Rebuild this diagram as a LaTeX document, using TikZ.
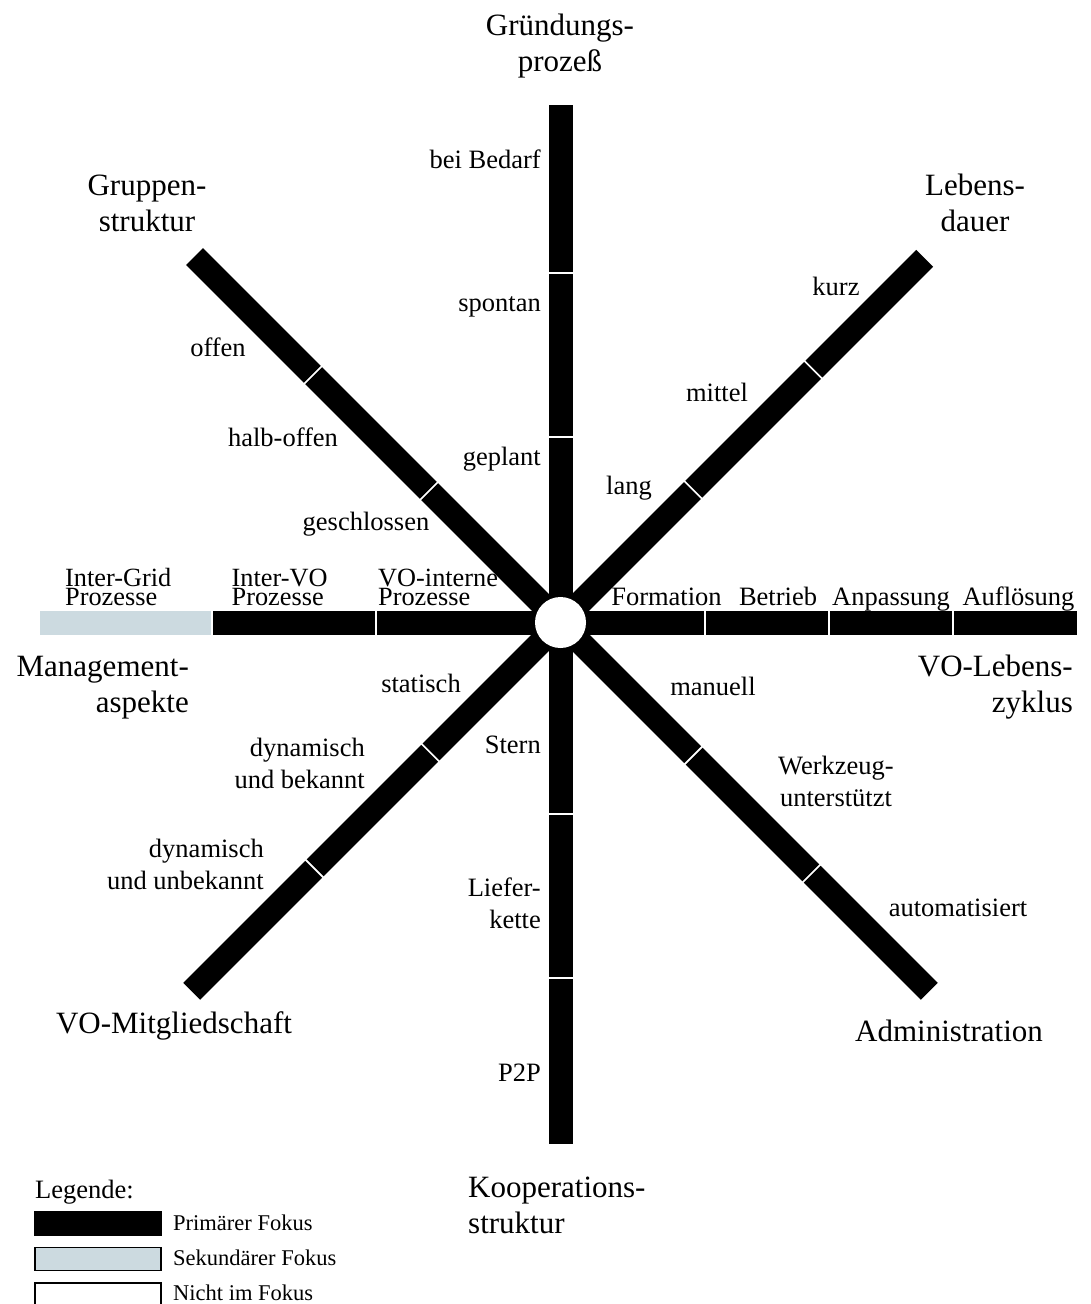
\documentclass[tikz,border=0pt]{standalone}
\usepackage{fontspec}
\setmainfont{Liberation Serif}
\definecolor{secgray}{RGB}{204,218,224}
\begin{document}
\begin{tikzpicture}[x=1pt,y=-1pt,
  bar/.style={line width=24pt, line cap=butt, draw=black},
  secbar/.style={line width=24pt, line cap=butt, draw=secgray},
  lbl/.style={inner sep=0pt, font=\fontsize{26.5}{32}\selectfont},
  lbltight/.style={inner sep=0pt, font=\fontsize{26.3}{18.6}\selectfont},
  ttl/.style={inner sep=0pt, font=\fontsize{31}{35.5}\selectfont},
  legtxt/.style={inner sep=0pt, font=\fontsize{22.5}{27}\selectfont},
  legbox/.style={draw=black, line width=1.2pt}]
\clip (0,0) rectangle (1090,1304);
\fill[white] (0,0) rectangle (1090,1304);
\coordinate (C) at (560.5,622.5);
% ---- bars ----
\begin{scope}[shift={(C)}]
  % up
  \draw[bar] (270:0) -- (270:185);
  \draw[bar] (270:187) -- (270:349);
  \draw[bar] (270:351) -- (270:517.5);
  % down
  \draw[bar] (90:0) -- (90:190.5);
  \draw[bar] (90:192.5) -- (90:354.5);
  \draw[bar] (90:356.5) -- (90:521.5);
  % left
  \draw[bar] (180:0) -- (180:184);
  \draw[bar] (180:186) -- (180:347.5);
  \draw[secbar] (180:349.5) -- (180:520.5);
  % right
  \draw[bar] (0:0) -- (0:143.5);
  \draw[bar] (0:145.5) -- (0:267.5);
  \draw[bar] (0:269.5) -- (0:391.5);
  \draw[bar] (0:393.5) -- (0:516.5);
  % upper left
  \draw[bar] (225:0) -- (225:185);
  \draw[bar] (225:187) -- (225:349);
  \draw[bar] (225:351) -- (225:517.5);
  % upper right
  \draw[bar] (315:0) -- (315:186.5);
  \draw[bar] (315:188.5) -- (315:356.5);
  \draw[bar] (315:358.5) -- (315:515);
  % lower left
  \draw[bar] (135:0) -- (135:183);
  \draw[bar] (135:185) -- (135:347);
  \draw[bar] (135:349) -- (135:521.5);
  % lower right
  \draw[bar] (45:0) -- (45:187);
  \draw[bar] (45:189) -- (45:354);
  \draw[bar] (45:356) -- (45:521.5);
\end{scope}
\node[circle, fill=white, minimum size=51pt, inner sep=0pt] (center) at (C) {};
% ---- axis titles (base = baseline of last line) ----
\node[ttl, align=center, anchor=base] (tGruend) at (560,71) {Gründungs-\\prozeß};
\node[ttl, align=center, anchor=base] (tGruppe) at (147,231) {Gruppen-\\struktur};
\node[ttl, align=center, anchor=base] (tLeben) at (975,231) {Lebens-\\dauer};
\node[ttl, align=right, anchor=base east] (tMgmt) at (189,712) {Management-\\aspekte};
\node[ttl, align=right, anchor=base east] (tZyklus) at (1073,712) {VO-Lebens-\\zyklus};
\node[ttl, anchor=base] (tMitglied) at (174,1033) {VO-Mitgliedschaft};
\node[ttl, anchor=base] (tAdmin) at (949,1041) {Administration};
\node[ttl, align=left, anchor=base west] (tKoop) at (468,1233) {Kooperations-\\struktur};
% ---- labels: Gruendungsprozess ----
\node[lbl, anchor=base east] (lBedarf) at (541,168) {bei Bedarf};
\node[lbl, anchor=base east] (lSpontan) at (541,311) {spontan};
\node[lbl, anchor=base east] (lGeplant) at (541,465) {geplant};
% ---- Gruppenstruktur ----
\node[lbl, anchor=base] (lOffen) at (218,356) {offen};
\node[lbl, anchor=base] (lHalb) at (283,446) {halb-offen};
\node[lbl, anchor=base] (lGeschl) at (366,530) {geschlossen};
% ---- Lebensdauer ----
\node[lbl, anchor=base] (lKurz) at (836,295) {kurz};
\node[lbl, anchor=base] (lMittel) at (717,401) {mittel};
\node[lbl, anchor=base] (lLang) at (629,494) {lang};
% ---- Managementaspekte ----
\node[lbltight, align=left, anchor=base west] (lInterGrid) at (65,605) {Inter-Grid\\Prozesse};
\node[lbltight, align=left, anchor=base west] (lInterVO) at (231.5,605) {Inter-VO\\Prozesse};
\node[lbltight, align=left, anchor=base west] (lVOint) at (378,605) {VO-interne\\Prozesse};
% ---- VO-Lebenszyklus ----
\node[lbl, anchor=base] (lFormation) at (666.5,605) {Formation};
\node[lbl, anchor=base] (lBetrieb) at (778,605) {Betrieb};
\node[lbl, anchor=base] (lAnpass) at (891,605) {Anpassung};
\node[lbl, anchor=base] (lAufl) at (1018.5,605) {Auflösung};
% ---- VO-Mitgliedschaft ----
\node[lbl, anchor=base] (lStatisch) at (421,692) {statisch};
\node[lbl, align=right, anchor=base east] (lDynBek) at (365,788) {dynamisch\\und bekannt};
\node[lbl, align=right, anchor=base east] (lDynUnbek) at (264,889) {dynamisch\\und unbekannt};
% ---- Kooperationsstruktur ----
\node[lbl, anchor=base east] (lStern) at (541,753) {Stern};
\node[lbl, align=right, anchor=base east] (lLiefer) at (541,928) {Liefer-\\kette};
\node[lbl, anchor=base east] (lP2P) at (541,1081) {P2P};
% ---- Administration ----
\node[lbl, anchor=base] (lManuell) at (713,695) {manuell};
\node[lbl, align=center, anchor=base] (lWerkz) at (836,806) {Werkzeug-\\unterstützt};
\node[lbl, anchor=base] (lAuto) at (958,916) {automatisiert};
% ---- legend ----
\node[lbl, anchor=base west] (legTitle) at (35,1198) {Legende:};
\draw[legbox, fill=black] (35,1212) rectangle (161,1235);
\draw[legbox, fill=secgray] (35,1247.5) rectangle (161,1270.5);
\draw[legbox, fill=white] (35,1283) rectangle (161,1306);
\node[legtxt, anchor=base west] (legPrim) at (173,1230) {Primärer Fokus};
\node[legtxt, anchor=base west] (legSek) at (173,1265) {Sekundärer Fokus};
\node[legtxt, anchor=base west] (legNicht) at (173,1300) {Nicht im Fokus};
\end{tikzpicture}
\end{document}
